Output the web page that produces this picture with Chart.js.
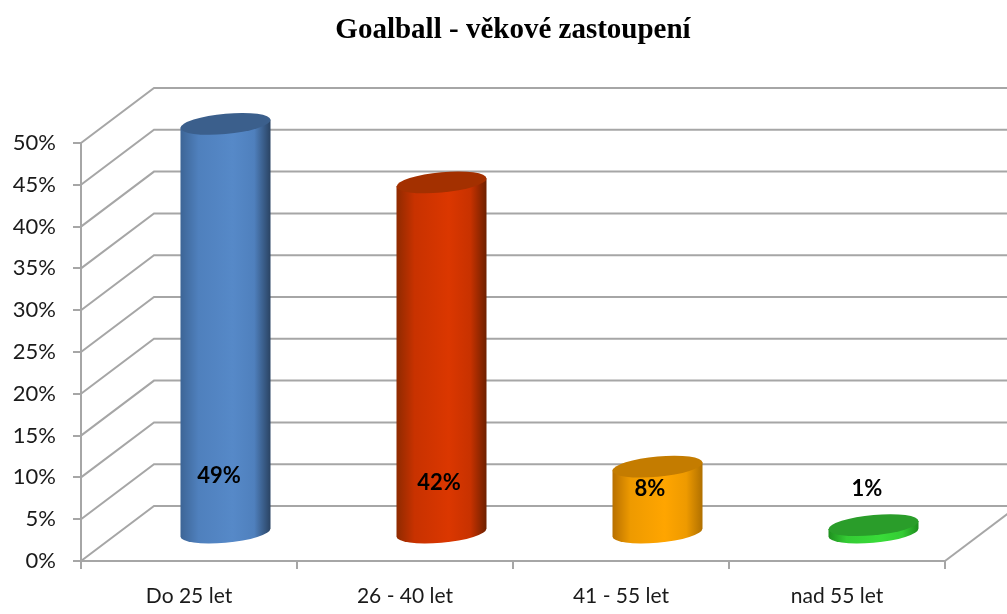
<!DOCTYPE html>
<html>
<head>
<meta charset="utf-8">
<title>Goalball - věkové zastoupení</title>
<script src="https://cdn.jsdelivr.net/npm/chart.js@4/dist/chart.umd.min.js"></script>
<style>
    html, body { margin: 0; padding: 0; background: #fff; }
    canvas { display: block; }
</style>
</head>
<body>
<canvas id="ageChart" width="1007" height="614"></canvas>
<script>
const categories = ['Do 25 let', '26 - 40 let', '41 - 55 let', 'nad 55 let'];
const shares = [49, 42, 8, 1];
const chartTitle = 'Goalball - věkové zastoupení';

// fake 3D look, all drawn on top of the scales
const wallDepth = { x: 73, y: -55 };
const gridGrey = '#a6a6a6';
const barColors = ['#5689c8', '#db3700', '#ffa500', '#39dc39'];
const barShades = [
    { edgeL: '#3d6596', soft: '#4f80bd', edgeR: '#2a4363', top: '#3b5f8c' },
    { edgeL: '#8f2a00', soft: '#c83200', edgeR: '#6e2000', top: '#a33000' },
    { edgeL: '#b87000', soft: '#ee9a00', edgeR: '#b07000', top: '#c47c00' },
    { edgeL: '#1f8f1f', soft: '#34cc34', edgeR: '#1e8d1e', top: '#2a9d2a' }
];
// hand placed data labels in the original, offset from bar x / floor
const labelShift = [[30, -84], [34, -77], [29, -71], [30, -71]];

const walls = {
    id: 'walls',
    beforeDatasetsDraw(chart) {
        const { ctx, scales: { x, y } } = chart;
        const left = x.left, right = x.right, floor = y.bottom;
        ctx.save();
        ctx.strokeStyle = gridGrey;
        ctx.lineWidth = 2;
        y.ticks.forEach(t => {
            const py = y.getPixelForValue(t.value);
            ctx.beginPath();
            ctx.moveTo(left, py);
            ctx.lineTo(left + wallDepth.x, py + wallDepth.y);
            ctx.lineTo(right + wallDepth.x, py + wallDepth.y);
            ctx.stroke();
        });
        ctx.beginPath();
        ctx.moveTo(right, floor);
        ctx.lineTo(right + wallDepth.x, floor + wallDepth.y);
        ctx.stroke();
        ctx.restore();
    }
};

const cylinders = {
    id: 'cylinders',
    beforeDatasetDraw(chart, args) {
        const { ctx } = chart;
        args.meta.data.forEach((bar, i) => {
            const shade = barShades[i];
            const a = bar.width / 2;
            const b = 10.2;
            const tilt = 4 / a;
            const cx = bar.x + wallDepth.x / 2;
            const base = bar.base + wallDepth.y / 2;
            const top = bar.y + wallDepth.y / 2;
            ctx.save();
            ctx.transform(1, -tilt, 0, 1, cx, 0);
            // the tilt also shears y around cx only
            const grad = ctx.createLinearGradient(-a, 0, a, 0);
            grad.addColorStop(0, shade.edgeL);
            grad.addColorStop(0.2, shade.soft);
            grad.addColorStop(0.58, barColors[i]);
            grad.addColorStop(0.82, shade.soft);
            grad.addColorStop(1, shade.edgeR);
            ctx.beginPath();
            ctx.ellipse(0, base, a, b, 0, Math.PI, 0, true);
            ctx.lineTo(a, top);
            ctx.lineTo(-a, top);
            ctx.closePath();
            ctx.fillStyle = grad;
            ctx.fill();
            ctx.beginPath();
            ctx.ellipse(0, top, a, b, 0, 0, Math.PI * 2);
            ctx.fillStyle = shade.top;
            ctx.fill();
            ctx.restore();
        });
        return false;
    },
    afterDatasetsDraw(chart) {
        const { ctx } = chart;
        const meta = chart.getDatasetMeta(0);
        ctx.save();
        ctx.font = 'bold 22px Lato';
        ctx.fillStyle = '#000';
        ctx.textAlign = 'center';
        ctx.textBaseline = 'middle';
        meta.data.forEach((bar, i) => {
            ctx.fillText(shares[i] + '%', bar.x + labelShift[i][0], bar.base + labelShift[i][1]);
        });
        ctx.restore();
    }
};

new Chart(document.getElementById('ageChart'), {
    type: 'bar',
    data: {
        labels: categories,
        datasets: [{
            data: shares,
            backgroundColor: barColors,
            categoryPercentage: 1,
            barPercentage: 90 / 216
        }]
    },
    options: {
        responsive: false,
        animation: false,
        layout: { padding: { left: 0, right: 62, top: 0, bottom: 0 } },
        plugins: {
            legend: { display: false },
            tooltip: { enabled: false },
            title: {
                display: true,
                text: chartTitle,
                color: '#000',
                fullSize: false,
                font: { family: '"Liberation Serif"', size: 29, weight: 'bold', lineHeight: 1.2 },
                padding: { top: 13, bottom: 95.2 }
            }
        },
        scales: {
            x: {
                afterFit(s) { s.height = 53; },
                grid: { drawOnChartArea: false, color: gridGrey, tickLength: 8, lineWidth: 2 },
                border: { color: gridGrey, width: 2 },
                ticks: { color: '#1a1a1a', padding: 15, maxRotation: 0, font: { family: 'Lato', size: 21 } }
            },
            y: {
                min: 0,
                max: 50,
                afterFit(s) { s.width = 81; },
                grid: { drawOnChartArea: false, color: gridGrey, tickLength: 8, lineWidth: 2 },
                border: { color: gridGrey, width: 2 },
                ticks: {
                    stepSize: 5,
                    color: '#1a1a1a',
                    padding: 17,
                    font: { family: 'Lato', size: 22 },
                    callback: v => v + '%'
                }
            }
        }
    },
    plugins: [walls, cylinders]
});
</script>
</body>
</html>
